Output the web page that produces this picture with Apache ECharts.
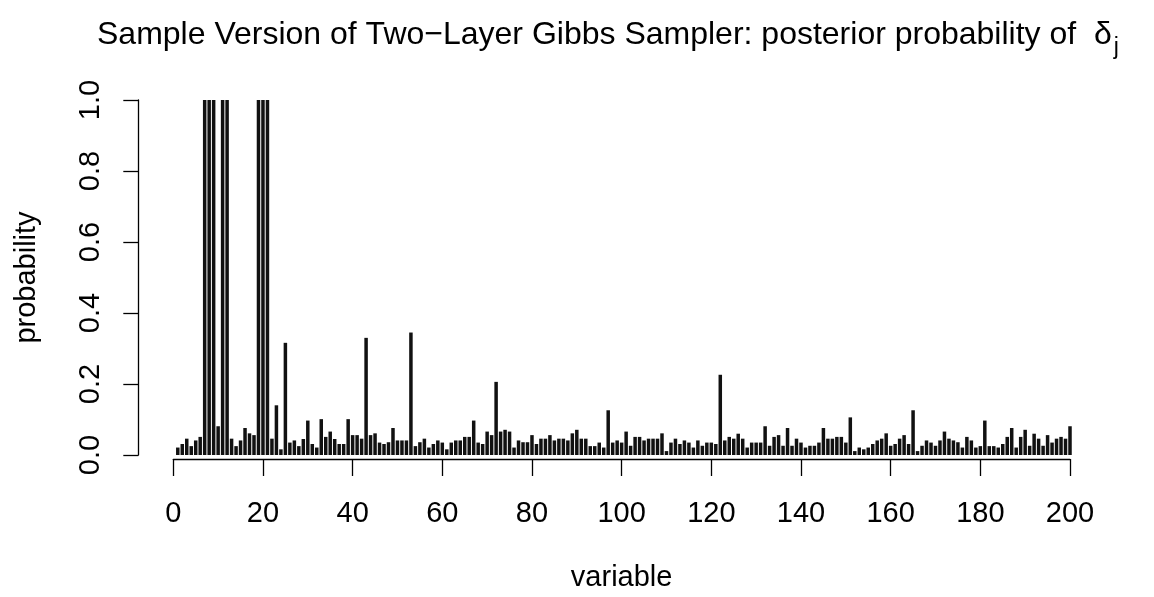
<!DOCTYPE html>
<html>
<head>
<meta charset="utf-8">
<script src="https://cdn.jsdelivr.net/npm/echarts@6/dist/echarts.min.js"></script>
<style>
html,body{margin:0;padding:0;background:#fff;}
#chart{width:1154px;height:597px;}
</style>
</head>
<body>
<div id="chart"></div>
<script>
const titleMain = 'Sample Version of Two\u2212Layer Gibbs Sampler: posterior probability of  \u03b4';
const titleSub = 'j';
const xAxisTitle = 'variable';
const yAxisTitle = 'probability';
const xTicks = [0, 20, 40, 60, 80, 100, 120, 140, 160, 180, 200];
const yTicks = [0.0, 0.2, 0.4, 0.6, 0.8, 1.0];
const probability = [
  0.021,0.031,0.046,0.025,0.041,0.051,1,1,1,0.081,
  1,1,0.046,0.025,0.041,0.076,0.061,0.056,1,1,
  1,0.046,0.14,0.016,0.316,0.035,0.041,0.025,0.045,0.097,
  0.031,0.021,0.101,0.051,0.066,0.045,0.031,0.031,0.101,0.056,
  0.056,0.046,0.33,0.056,0.061,0.035,0.031,0.036,0.076,0.041,
  0.041,0.041,0.345,0.025,0.036,0.046,0.021,0.031,0.041,0.035,
  0.016,0.035,0.041,0.041,0.051,0.051,0.097,0.035,0.031,0.066,
  0.056,0.206,0.066,0.071,0.066,0.021,0.041,0.036,0.036,0.056,
  0.031,0.046,0.046,0.056,0.041,0.046,0.046,0.041,0.061,0.071,
  0.046,0.046,0.025,0.025,0.035,0.021,0.126,0.035,0.041,0.035,
  0.066,0.026,0.051,0.051,0.041,0.046,0.046,0.046,0.061,0.011,
  0.035,0.046,0.031,0.041,0.035,0.021,0.041,0.026,0.035,0.035,
  0.031,0.226,0.041,0.051,0.046,0.06,0.046,0.021,0.035,0.035,
  0.035,0.081,0.026,0.051,0.056,0.026,0.076,0.026,0.046,0.035,
  0.021,0.026,0.026,0.035,0.076,0.046,0.046,0.051,0.051,0.035,
  0.106,0.011,0.021,0.016,0.021,0.031,0.041,0.046,0.061,0.026,
  0.031,0.046,0.056,0.031,0.126,0.011,0.026,0.041,0.035,0.026,
  0.041,0.066,0.046,0.041,0.036,0.021,0.051,0.041,0.021,0.025,
  0.097,0.025,0.025,0.021,0.031,0.051,0.076,0.021,0.051,0.071,
  0.026,0.06,0.046,0.026,0.056,0.035,0.046,0.051,0.046,0.081
];

const FONT = '"Liberation Sans", Arial, Helvetica, sans-serif';
const chart = echarts.init(document.getElementById('chart'), null, {renderer: 'canvas'});
const seriesData = probability.map((v, i) => [i + 1, v]);

chart.setOption({
  animation: false,
  backgroundColor: '#ffffff',
  textStyle: {fontFamily: FONT, color: '#000'},
  title: {
    left: 92,
    top: 12,
    text: '{m|' + titleMain + '}{s|' + titleSub + '}',
    textStyle: {
      fontWeight: 'normal',
      rich: {
        m: {fontFamily: FONT, fontSize: 32, fontWeight: 'normal', color: '#000', lineHeight: 36},
        s: {fontFamily: FONT, fontSize: 23, fontWeight: 'normal', color: '#000', lineHeight: 23, padding: [26, 0, 0, 2]}
      }
    }
  },
  grid: {left: 173.3, right: 84, top: 100, bottom: 138, containLabel: false},
  xAxis: {
    type: 'value',
    min: xTicks[0],
    max: xTicks[xTicks.length - 1],
    interval: 20,
    offset: 4,
    name: xAxisTitle,
    nameLocation: 'middle',
    nameGap: 104,
    nameTextStyle: {fontFamily: FONT, fontSize: 29, color: '#000'},
    axisLine: {show: true, onZero: false, lineStyle: {color: '#000', width: 1.3}},
    axisTick: {show: true, length: 17, lineStyle: {color: '#000', width: 1.3}},
    axisLabel: {fontFamily: FONT, fontSize: 29, color: '#000', margin: 40},
    splitLine: {show: false}
  },
  yAxis: {
    type: 'value',
    min: yTicks[0],
    max: yTicks[yTicks.length - 1],
    interval: 0.2,
    offset: 35,
    name: yAxisTitle,
    nameLocation: 'middle',
    nameGap: 97,
    nameTextStyle: {fontFamily: FONT, fontSize: 29, color: '#000'},
    axisLine: {show: true, onZero: false, lineStyle: {color: '#000', width: 1.3}},
    axisTick: {show: true, length: 15, lineStyle: {color: '#000', width: 1.3}},
    axisLabel: {fontFamily: FONT, fontSize: 29, color: '#000', rotate: 90, margin: 33,
      formatter: v => v.toFixed(1)},
    splitLine: {show: false}
  },
  series: [{
    type: 'bar',
    data: seriesData,
    barWidth: 3.5,
    itemStyle: {color: '#111111'},
    silent: true
  }]
});
</script>
</body>
</html>
